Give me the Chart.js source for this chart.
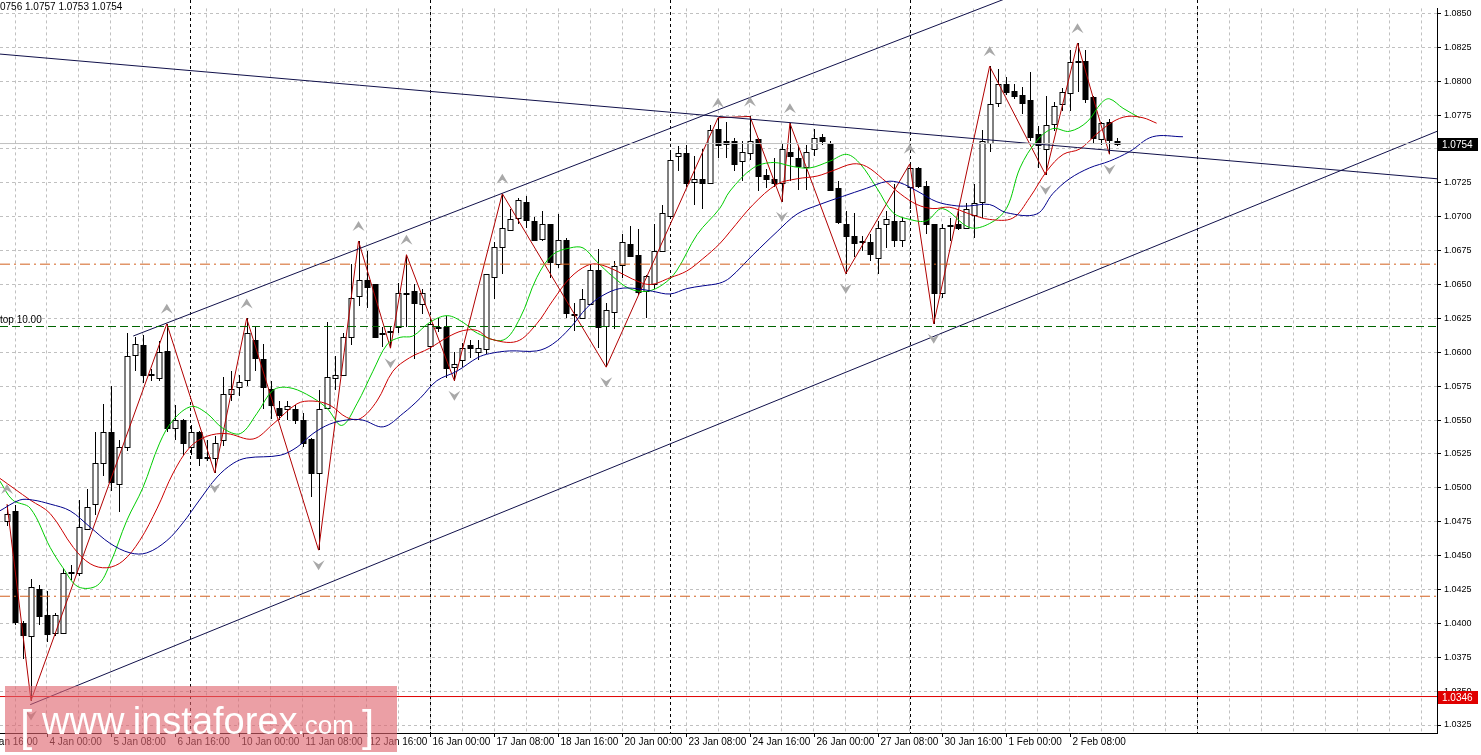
<!DOCTYPE html>
<html><head><meta charset="utf-8">
<script src="https://cdn.jsdelivr.net/npm/chart.js@4.4.1/dist/chart.umd.min.js"></script>
<style>html,body{margin:0;padding:0;background:#fff;overflow:hidden}canvas{display:block}</style>
</head><body>
<canvas id="c" width="1481" height="755" style="width:1481px;height:755px"></canvas>
<script>
// ---- DATA ----
const firstBar = -5;
const openP = [1.0476,1.0483,1.0400,1.0391,1.0425,1.0406,1.0393,1.0393,1.0437,1.0437,1.0470,1.0488,1.0518,1.0541,1.0503,1.0530,1.0598,1.0605,1.0584,1.0581,1.0601,1.0544,1.0550,1.0530,1.0541,1.0523,1.0522,1.0535,1.0569,1.0574,1.0579,1.0609,1.0595,1.0573,1.0559,1.0558,1.0558,1.0550,1.0536,1.0511,1.0559,1.0581,1.0583,1.0611,1.0641,1.0653,1.0650,1.0613,1.0615,1.0619,1.0644,1.0645,1.0636,1.0605,1.0619,1.0619,1.0589,1.0594,1.0605,1.0600,1.0603,1.0656,1.0678,1.0690,1.0699,1.0711,1.0697,1.0684,1.0695,1.0665,1.0683,1.0628,1.0625,1.0636,1.0661,1.0619,1.0630,1.0664,1.0680,1.0672,1.0645,1.0651,1.0675,1.0701,1.0745,1.0747,1.0726,1.0728,1.0725,1.0765,1.0756,1.0756,1.0741,1.0747,1.0757,1.0731,1.0728,1.0725,1.0748,1.0743,1.0737,1.0750,1.0759,1.0754,1.0721,1.0695,1.0686,1.0682,1.0681,1.0670,1.0694,1.0697,1.0683,1.0722,1.0736,1.0723,1.0695,1.0644,1.0694,1.0695,1.0692,1.0701,1.0711,1.0754,1.0784,1.0798,1.0793,1.0790,1.0786,1.0761,1.0750,1.0769,1.0783,1.0791,1.0814,1.0815,1.0788,1.0757,1.0770,1.0756];
const highP = [1.0487,1.0487,1.0402,1.0433,1.0428,1.0424,1.0408,1.0441,1.0443,1.0491,1.0499,1.0541,1.0562,1.0575,1.0535,1.0614,1.0611,1.0613,1.0588,1.0608,1.0621,1.0561,1.0551,1.0546,1.0542,1.0535,1.0538,1.0582,1.0586,1.0583,1.0625,1.0619,1.0606,1.0579,1.0564,1.0564,1.0561,1.0555,1.0537,1.0572,1.0622,1.0597,1.0614,1.0665,1.0682,1.0675,1.0650,1.0619,1.0619,1.0651,1.0672,1.0650,1.0647,1.0625,1.0625,1.0627,1.0600,1.0607,1.0609,1.0609,1.0658,1.0681,1.0717,1.0706,1.0714,1.0715,1.0700,1.0704,1.0695,1.0702,1.0684,1.0636,1.0647,1.0665,1.0676,1.0636,1.0667,1.0687,1.0693,1.0691,1.0657,1.0695,1.0709,1.0747,1.0752,1.0753,1.0745,1.0750,1.0768,1.0773,1.0770,1.0758,1.0756,1.0774,1.0758,1.0735,1.0743,1.0754,1.0769,1.0752,1.0753,1.0765,1.0761,1.0756,1.0726,1.0704,1.0703,1.0686,1.0687,1.0697,1.0704,1.0724,1.0700,1.0739,1.0737,1.0726,1.0695,1.0695,1.0699,1.0704,1.0710,1.0724,1.0764,1.0811,1.0809,1.0803,1.0798,1.0796,1.0807,1.0767,1.0789,1.0785,1.0795,1.0823,1.0828,1.0823,1.0789,1.0770,1.0772,1.0758];
const lowP = [1.0472,1.0399,1.0374,1.0343,1.0399,1.0386,1.0391,1.0392,1.0432,1.0435,1.0469,1.0480,1.0509,1.0498,1.0482,1.0527,1.0586,1.0577,1.0579,1.0579,1.0541,1.0535,1.0524,1.0524,1.0516,1.0520,1.0511,1.0531,1.0564,1.0568,1.0575,1.0586,1.0558,1.0551,1.0550,1.0550,1.0547,1.0530,1.0493,1.0454,1.0558,1.0572,1.0583,1.0605,1.0634,1.0633,1.0611,1.0604,1.0603,1.0614,1.0619,1.0595,1.0628,1.0603,1.0615,1.0581,1.0579,1.0589,1.0596,1.0594,1.0599,1.0639,1.0658,1.0690,1.0695,1.0692,1.0682,1.0682,1.0655,1.0662,1.0625,1.0616,1.0625,1.0636,1.0603,1.0589,1.0617,1.0655,1.0670,1.0642,1.0625,1.0647,1.0675,1.0700,1.0734,1.0722,1.0709,1.0706,1.0724,1.0743,1.0743,1.0734,1.0726,1.0742,1.0719,1.0721,1.0722,1.0711,1.0726,1.0720,1.0720,1.0745,1.0753,1.0719,1.0695,1.0658,1.0670,1.0675,1.0667,1.0658,1.0677,1.0678,1.0678,1.0706,1.0721,1.0687,1.0621,1.0640,1.0682,1.0690,1.0691,1.0684,1.0699,1.0748,1.0781,1.0790,1.0787,1.0776,1.0756,1.0736,1.0731,1.0763,1.0778,1.0778,1.0792,1.0784,1.0754,1.0753,1.0746,1.0752];
const closeP = [1.0481,1.0401,1.0391,1.0427,1.0405,1.0392,1.0406,1.0437,1.0438,1.0471,1.0486,1.0518,1.0541,1.0504,1.0530,1.0597,1.0606,1.0583,1.0583,1.0600,1.0544,1.0550,1.0533,1.0541,1.0522,1.0522,1.0533,1.0569,1.0573,1.0578,1.0614,1.0596,1.0574,1.0561,1.0554,1.0560,1.0550,1.0533,1.0511,1.0558,1.0582,1.0583,1.0611,1.0640,1.0653,1.0648,1.0611,1.0614,1.0616,1.0644,1.0644,1.0636,1.0644,1.0621,1.0619,1.0589,1.0591,1.0603,1.0603,1.0603,1.0658,1.0678,1.0692,1.0698,1.0712,1.0698,1.0683,1.0695,1.0667,1.0683,1.0629,1.0627,1.0639,1.0661,1.0619,1.0631,1.0664,1.0681,1.0671,1.0645,1.0656,1.0675,1.0703,1.0742,1.0747,1.0725,1.0728,1.0725,1.0764,1.0753,1.0754,1.0739,1.0748,1.0756,1.0730,1.0728,1.0725,1.0750,1.0745,1.0737,1.0748,1.0758,1.0756,1.0720,1.0696,1.0686,1.0681,1.0681,1.0672,1.0692,1.0698,1.0683,1.0697,1.0736,1.0723,1.0695,1.0644,1.0692,1.0693,1.0692,1.0706,1.0710,1.0756,1.0783,1.0798,1.0792,1.0789,1.0784,1.0759,1.0753,1.0768,1.0782,1.0792,1.0814,1.0815,1.0787,1.0758,1.0769,1.0757,1.0754];

const maFast = [[-5.9,1.0505],[-4.3,1.0491],[-2.1,1.0485],[0.4,1.0456],[2.0,1.0441],[3.9,1.0427],[6.3,1.0428],[7.9,1.0444],[10.0,1.0476],[12.0,1.0500],[14.1,1.0533],[15.8,1.0550],[18.1,1.0560],[20.0,1.0555],[22.0,1.0544],[24.2,1.0540],[26.3,1.0555],[28.3,1.0572],[30.2,1.0574],[32.5,1.0569],[35.0,1.0559],[36.9,1.0546],[38.8,1.0562],[40.8,1.0586],[42.6,1.0606],[44.2,1.0611],[45.8,1.0612],[47.9,1.0622],[50.1,1.0627],[52.1,1.0622],[53.9,1.0614],[57.1,1.0609],[59.2,1.0625],[61.3,1.0655],[63.3,1.0672],[65.5,1.0677],[67.1,1.0677],[68.8,1.0667],[70.8,1.0656],[72.9,1.0647],[75.1,1.0645],[77.1,1.0650],[78.8,1.0660],[81.4,1.0687],[84.2,1.0706],[85.5,1.0719],[88.4,1.0736],[90.9,1.0740],[93.4,1.0737],[95.5,1.0736],[98.0,1.0741],[100.1,1.0746],[101.8,1.0739],[103.9,1.0721],[105.9,1.0703],[108.0,1.0698],[110.1,1.0697],[112.1,1.0706],[115.5,1.0692],[118.0,1.0695],[120.1,1.0706],[121.8,1.0736],[123.9,1.0756],[125.9,1.0765],[128.0,1.0763],[130.2,1.0770],[132.0,1.0784],[133.0,1.0787],[134.7,1.0780],[136.8,1.0773]];
const maMid = [[-5.9,1.0507],[-2.1,1.0491],[0.4,1.0481],[3.3,1.0456],[5.4,1.0444],[7.5,1.0441],[9.5,1.0446],[11.6,1.0461],[13.8,1.0485],[15.8,1.0511],[17.9,1.0530],[20.0,1.0538],[22.5,1.0540],[25.8,1.0536],[28.3,1.0547],[31.3,1.0562],[33.3,1.0564],[35.4,1.0561],[37.5,1.0552],[39.2,1.0551],[41.3,1.0564],[43.3,1.0586],[45.4,1.0596],[47.9,1.0603],[50.1,1.0611],[52.1,1.0616],[53.9,1.0616],[55.4,1.0610],[58.8,1.0608],[61.3,1.0621],[63.3,1.0638],[65.5,1.0655],[67.6,1.0664],[69.0,1.0665],[71.3,1.0660],[73.3,1.0654],[75.5,1.0650],[78.0,1.0655],[80.1,1.0660],[82.1,1.0669],[84.2,1.0680],[85.5,1.0689],[88.4,1.0709],[91.4,1.0724],[93.9,1.0728],[96.4,1.0730],[98.4,1.0734],[100.9,1.0739],[102.6,1.0737],[104.6,1.0728],[106.8,1.0717],[108.9,1.0709],[110.9,1.0706],[113.0,1.0707],[115.5,1.0702],[118.0,1.0698],[120.9,1.0699],[123.0,1.0714],[125.2,1.0734],[127.2,1.0746],[129.3,1.0750],[131.4,1.0761],[133.4,1.0770],[135.2,1.0774],[137.2,1.0773],[138.9,1.0769]];
const maSlow = [[-5.9,1.0483],[-3.4,1.0491],[-1.8,1.0491],[0.4,1.0488],[2.9,1.0483],[5.4,1.0471],[7.9,1.0459],[10.4,1.0452],[12.5,1.0452],[15.0,1.0461],[17.0,1.0474],[19.1,1.0491],[21.3,1.0508],[23.3,1.0518],[25.0,1.0522],[29.2,1.0524],[31.3,1.0530],[33.3,1.0540],[35.4,1.0547],[37.5,1.0550],[39.5,1.0550],[42.1,1.0545],[44.6,1.0555],[46.7,1.0566],[48.8,1.0579],[51.3,1.0586],[53.9,1.0596],[55.4,1.0599],[57.9,1.0601],[61.3,1.0601],[63.3,1.0606],[65.5,1.0618],[67.6,1.0633],[69.6,1.0642],[71.7,1.0647],[73.8,1.0647],[75.8,1.0645],[78.0,1.0643],[80.1,1.0647],[82.1,1.0649],[84.2,1.0651],[85.5,1.0655],[88.4,1.0672],[91.4,1.0689],[93.9,1.0702],[96.7,1.0709],[99.6,1.0715],[102.6,1.0721],[105.1,1.0726],[106.8,1.0725],[108.9,1.0719],[111.4,1.0711],[113.9,1.0708],[115.5,1.0708],[118.0,1.0709],[120.1,1.0703],[123.9,1.0702],[125.9,1.0717],[128.0,1.0728],[130.5,1.0736],[133.0,1.0741],[135.5,1.0748],[138.4,1.0759],[142.2,1.0759]];
const zigzag = [[-5,1.0488],[-2,1.0343],[15,1.0621],[21,1.0511],[25,1.0625],[34,1.0454],[39,1.0682],[43,1.0603],[45,1.0672],[51,1.0579],[57,1.0717],[70,1.0589],[84,1.0773],[88,1.0774],[92,1.0711],[93,1.0769],[100,1.0658],[108,1.0739],[111,1.0621],[118,1.0811],[125,1.0731],[129,1.0828],[133,1.0746]];
const channelUp = [[10.8,1.0612],[174,1.0984]];
const channelLow = [[-2.1,1.0340],[174,1.0763]];
const descLine = [[-5.88,1.0820],[174,1.0728]];
const levelOrange = [1.0665, 1.0420];
const levelStop = 1.0619;
const levelRed = 1.0346;
const lastPrice = 1.0754;
const weekSeps = [17.9, 47.9, 78, 108, 144];
const xLabels = [[-8,'3 Jan 16:00'],[0,'4 Jan 00:00'],[8,'5 Jan 08:00'],[16,'6 Jan 16:00'],[24,'10 Jan 00:00'],[32,'11 Jan 08:00'],[40,'12 Jan 16:00'],[48,'16 Jan 00:00'],[56,'17 Jan 08:00'],[64,'18 Jan 16:00'],[72,'20 Jan 00:00'],[80,'23 Jan 08:00'],[88,'24 Jan 16:00'],[96,'26 Jan 00:00'],[104,'27 Jan 08:00'],[112,'30 Jan 16:00'],[120,'1 Feb 00:00'],[128,'2 Feb 08:00']];
const yTicks = [1.0325,1.0350,1.0375,1.0400,1.0425,1.0450,1.0475,1.0500,1.0525,1.0550,1.0575,1.0600,1.0625,1.0650,1.0675,1.0700,1.0725,1.0750,1.0775,1.0800,1.0825,1.0850];
const xMin = -5.88, xMax = 174, yMin = 1.03191, yMax = 1.08537;

const pts = a => a.map(p => ({x:p[0], y:p[1]}));
const hline = v => [{x:xMin,y:v},{x:xMax,y:v}];
const F = '"Liberation Sans", Arial, sans-serif';

const candlePlugin = {
  id:'candles',
  beforeDatasetsDraw(chart){
    const {ctx, scales:{x,y}, chartArea:a} = chart;
    ctx.save();
    ctx.beginPath(); ctx.rect(a.left,0,a.right-a.left,a.bottom); ctx.clip();
    ctx.strokeStyle='#000'; ctx.lineWidth=1; ctx.setLineDash([3,3]);
    weekSeps.forEach(w=>{const px=Math.round(x.getPixelForValue(w))+0.5;ctx.beginPath();ctx.moveTo(px,0);ctx.lineTo(px,a.bottom);ctx.stroke();});
    ctx.setLineDash([]);
    for(let k=0;k<openP.length;k++){
      const i=firstBar+k, px=Math.round(x.getPixelForValue(i))+0.5;
      const o=y.getPixelForValue(openP[k]), c=y.getPixelForValue(closeP[k]);
      const h=y.getPixelForValue(highP[k]), l=y.getPixelForValue(lowP[k]);
      ctx.strokeStyle='#000'; ctx.lineWidth=1;
      ctx.beginPath(); ctx.moveTo(px,Math.round(h)); ctx.lineTo(px,Math.round(l)); ctx.stroke();
      const top=Math.round(Math.min(o,c))+0.5, bh=Math.max(1,Math.round(Math.abs(o-c)));
      if(closeP[k]>=openP[k]){ctx.fillStyle='#fff';ctx.fillRect(px-2.5,top,5,bh);ctx.strokeRect(px-2.5,top,5,bh);}
      else{ctx.fillStyle='#000';ctx.fillRect(px-3,top-0.5,6,bh+1);}
    }
    ctx.restore();
  },
  afterDatasetsDraw(chart){
    const {ctx, scales:{x,y}} = chart;
    ctx.save();
    ctx.fillStyle='#a8a8a8';
    zigzag.forEach((p,k)=>{
      const px=x.getPixelForValue(p[0]), py=y.getPixelForValue(p[1]);
      const prev=zigzag[k-1], next=zigzag[k+1];
      const peak = (prev? p[1]>prev[1] : p[1]>next[1]);
      ctx.beginPath();
      if(peak){const t=py-20;ctx.moveTo(px,t);ctx.lineTo(px+6,t+10);ctx.lineTo(px,t+6);ctx.lineTo(px-6,t+10);}
      else{const t=py+20;ctx.moveTo(px,t);ctx.lineTo(px+6,t-10);ctx.lineTo(px,t-6);ctx.lineTo(px-6,t-10);}
      ctx.closePath(); ctx.fill();
    });
    ctx.restore();
  },
  afterDraw(chart){
    const {ctx, scales:{x,y}, chartArea:a} = chart;
    ctx.save();
    ctx.font='10px '+F; ctx.fillStyle='#000'; ctx.textBaseline='middle'; ctx.textAlign='left';
    xLabels.forEach(l=>{const px=Math.round(x.getPixelForValue(l[0]))+0.5;
      ctx.beginPath();ctx.strokeStyle='#000';ctx.moveTo(px,a.bottom);ctx.lineTo(px,a.bottom+4);ctx.stroke();
      ctx.fillText(l[1],px+2,a.bottom+9);});
    ctx.fillText('0756 1.0757 1.0753 1.0754',0,7);
    ctx.fillText('top 10.00',0,y.getPixelForValue(levelStop)-6);
    const box=(v,bg,fg)=>{const py=Math.round(y.getPixelForValue(v));ctx.fillStyle=bg;ctx.fillRect(a.right+1,py-6,40,13);ctx.fillStyle=fg;ctx.fillText(v.toFixed(4),a.right+5,py+1);};
    box(lastPrice,'#000','#fff'); box(levelRed,'#e00000','#fff');
    ctx.fillStyle='rgba(222,100,110,0.62)'; ctx.fillRect(5,686,392,66);
    ctx.fillStyle='#fff'; ctx.textBaseline='alphabetic';
    ctx.font='44px '+F; ctx.fillText('[',20,741);
    ctx.font='38px '+F; ctx.fillText('www.instaforex',42,734);
    const w=ctx.measureText('www.instaforex').width;
    ctx.font='26px '+F; ctx.fillText('.com',42+w,734);
    const w2=ctx.measureText('.com').width;
    ctx.font='44px '+F; ctx.fillText(']',50+w+w2,741);
    ctx.restore();
  }
};

const lineDs = (data,color,extra) => Object.assign({data,borderColor:color,borderWidth:1,pointRadius:0,fill:false,tension:0,clip:{left:0,right:0,bottom:0,top:10}},extra||{});

new Chart(document.getElementById('c'),{
  type:'line',
  data:{datasets:[
    lineDs(hline(levelOrange[0]),'#d2601e',{borderDash:[10,4,2,4]}),
    lineDs(hline(levelOrange[1]),'#d2601e',{borderDash:[10,4,2,4]}),
    lineDs(hline(levelStop),'#006400',{borderDash:[8,4]}),
    lineDs(hline(levelRed),'#e00000'),
    lineDs(hline(lastPrice),'#c0c0c0'),
    lineDs(pts(descLine),'#10104a'),
    lineDs(pts(channelUp),'#10104a'),
    lineDs(pts(channelLow),'#10104a'),
    lineDs(pts(maSlow),'#00008b',{tension:0.35}),
    lineDs(pts(maMid),'#cc0000',{tension:0.35}),
    lineDs(pts(maFast),'#00cc00',{tension:0.35}),
    lineDs(pts(zigzag),'#b00000'),
  ]},
  options:{
    responsive:false, animation:false, devicePixelRatio:1,
    layout:{padding:0},
    plugins:{legend:{display:false},tooltip:{enabled:false}},
    scales:{
      x:{type:'linear',min:xMin,max:xMax,
        afterBuildTicks(s){const t=[];for(let v=-4;v<=172;v+=4)t.push({value:v});s.ticks=t;},
        afterFit(s){s.height=22;},
        ticks:{display:false},
        grid:{color:'#c0c0c0',drawTicks:false,tickLength:0},
        border:{color:'#000',dash:[3,3],display:true}},
      y:{position:'right',min:yMin,max:yMax,
        afterBuildTicks(s){s.ticks=yTicks.map(v=>({value:v}));},
        afterFit(s){s.width=44;},
        ticks:{callback:v=>Number(v).toFixed(4),font:{size:9,family:F},color:'#000',padding:3},
        grid:{color:'#c0c0c0',tickLength:4,tickColor:'#000'},
        border:{color:'#000',dash:[3,3]}}
    }
  },
  plugins:[candlePlugin]
});
</script>
</body></html>
